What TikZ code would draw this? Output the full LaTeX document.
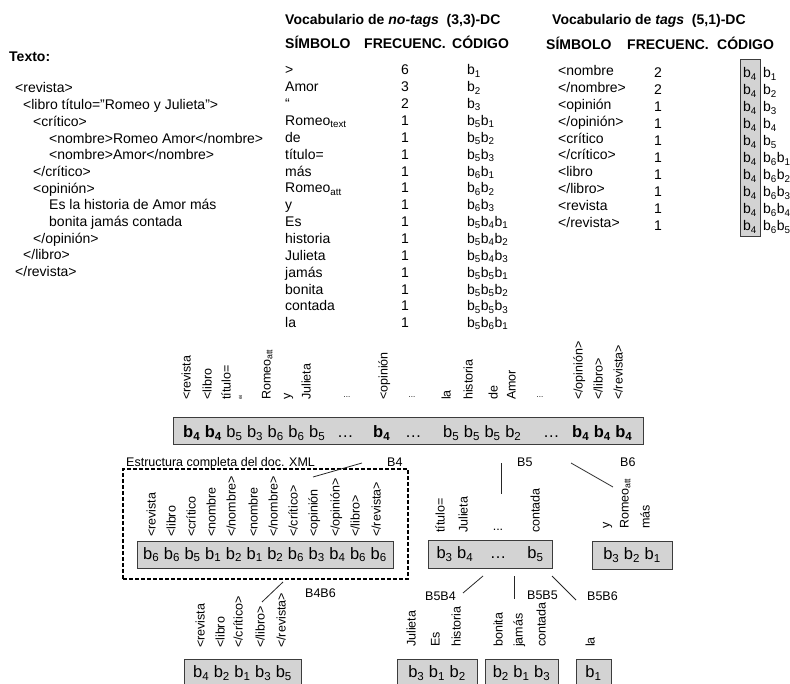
\documentclass[tikz,border=0pt]{standalone}
\usepackage{fontspec}
\setmainfont{Liberation Sans}
\definecolor{boxgray}{RGB}{211,211,211}
\definecolor{edgegray}{RGB}{60,60,60}
\newcommand{\cod}[1]{b\textsubscript{#1}}
\begin{document}
\begin{tikzpicture}[x=1pt, y=-1pt,
	txt/.style={anchor=base west, inner sep=0pt, font=\fontsize{14}{16}\selectfont},
	hdr/.style={anchor=base west, inner sep=0pt, font=\fontsize{14}{16}\selectfont\bfseries},
	num/.style={anchor=base, inner sep=0pt, font=\fontsize{14}{16}\selectfont},
	vlab/.style={rotate=90, anchor=mid west, inner sep=0pt, font=\fontsize{12.5}{14}\selectfont},
	dots/.style={anchor=base, inner sep=0pt, font=\fontsize{8}{9}\selectfont},
	blab/.style={anchor=base west, inner sep=0pt, font=\fontsize{12.5}{14}\selectfont},
	codebox/.style={draw=edgegray, fill=boxgray, line width=1pt, inner sep=0pt, font=\fontsize{16.5}{18}\selectfont},
	bartxt/.style={anchor=base west, inner sep=0pt, font=\fontsize{16.5}{18}\selectfont},
	link/.style={draw=black!85, line width=0.8pt}
]
\useasboundingbox (0,0) rectangle (790,684);
\clip (0,0) rectangle (790,684);
%
% the xml text
\node[hdr] (texto) at (9,62) {Texto:};
\def\doclines {15/<revista>, 23/<libro título=”Romeo y Julieta”>, 33/<crítico>, 49/{<nombre>Romeo Amor</nombre>}, 49/{<nombre>Amor</nombre>}, 33/{</crítico>}, 33/<opinión>, 49/Es la historia de Amor más, 49/bonita jamás contada, 33/{</opinión>}, 23/{</libro>}, 15/{</revista>}}
\foreach \x/\t [count=\i from 0] in \doclines{
	\node[txt] (doc\i) at (\x,93+16.7*\i) {\t};
}
%
% vocabulary of no-tags
\node[hdr] (nttitle) at (285,25) {Vocabulario de \textit{no-tags}\ \ (3,3)-DC};
\node[hdr] (ntsym) at (285,49) {SÍMBOLO};
\node[hdr] (ntfreq) at (364,49) {FRECUENC.};
\node[hdr] (ntcode) at (452,49) {CÓDIGO};
\def\notags {>/6/\cod{1}, Amor/3/\cod{2}, “/2/\cod{3}, Romeo\textsubscript{text}/1/\cod{5}\cod{1}, de/1/\cod{5}\cod{2}, título=/1/\cod{5}\cod{3}, más/1/\cod{6}\cod{1}, Romeo\textsubscript{att}/1/\cod{6}\cod{2}, y/1/\cod{6}\cod{3}, Es/1/\cod{5}\cod{4}\cod{1}, historia/1/\cod{5}\cod{4}\cod{2}, Julieta/1/\cod{5}\cod{4}\cod{3}, jamás/1/\cod{5}\cod{5}\cod{1}, bonita/1/\cod{5}\cod{5}\cod{2}, contada/1/\cod{5}\cod{5}\cod{3}, la/1/\cod{5}\cod{6}\cod{1}}
\foreach \s/\f/\c [count=\i from 0] in \notags{
	\node[txt] (nts\i) at (285,75+16.85*\i) {\s};
	\node[num] (ntf\i) at (405,75+16.85*\i) {\f};
	\node[txt] (ntc\i) at (467,75+16.85*\i) {\c};
}
%
% vocabulary of tags
\node[hdr] (tgtitle) at (552,25) {Vocabulario de \textit{tags}\ \ (5,1)-DC};
\node[hdr] (tgsym) at (546,50) {SÍMBOLO};
\node[hdr] (tgfreq) at (627,50) {FRECUENC.};
\node[hdr] (tgcode) at (717,50) {CÓDIGO};
\node[codebox, minimum width=20, minimum height=177] (tgbox) at (750,148.5) {};
\def\tags {<nombre/2/\cod{1}, {</nombre>}/2/\cod{2}, <opinión/1/\cod{3}, {</opinión>}/1/\cod{4}, <crítico/1/\cod{5}, {</crítico>}/1/\cod{6}\cod{1}, <libro/1/\cod{6}\cod{2}, {</libro>}/1/\cod{6}\cod{3}, <revista/1/\cod{6}\cod{4}, {</revista>}/1/\cod{6}\cod{5}}
\foreach \s/\f/\c [count=\i from 0] in \tags{
	\node[txt] (tgs\i) at (558,76+16.8*\i) {\s};
	\node[num] (tgf\i) at (658,78+16.9*\i) {\f};
	\node[txt] (tgp\i) at (743,78+17*\i) {\cod{4}};
	\node[txt] (tgc\i) at (763,78+17*\i) {\c};
}
%
% compressed text with its words
\node[codebox, minimum width=470, minimum height=27] (bar) at (408,431.5) {};
\node[bartxt] (bar1) at (183,438) {\textbf{\cod{4}} \textbf{\cod{4}} \cod{5} \cod{3} \cod{6} \cod{6} \cod{5}};
\node[bartxt] (bar2) at (337,438) {…};
\node[bartxt] (bar3) at (373,438) {\textbf{\cod{4}}};
\node[bartxt] (bar4) at (405,438) {…};
\node[bartxt] (bar5) at (443,438) {\cod{5} \cod{5} \cod{5} \cod{2}};
\node[bartxt] (bar6) at (543,438) {…};
\node[bartxt] (bar7) at (572,438) {\textbf{\cod{4}} \textbf{\cod{4}} \textbf{\cod{4}}};
%
% structure of the xml document
\node[draw=black, line width=1.6pt, dash pattern=on 4pt off 2pt, minimum width=285, minimum height=110] (xml) at (265.5,524) {};
\node[blab] (xmltitle) at (126,467) {Estructura completa del doc. XML};
\node[codebox, minimum width=256, minimum height=27] (b4box) at (265,554.5) {\cod{6} \cod{6} \cod{5} \cod{1} \cod{2} \cod{1} \cod{2} \cod{6} \cod{3} \cod{4} \cod{6} \cod{6}};
\node[codebox, minimum width=124, minimum height=28] (b5box) at (490,554) {\cod{3} \cod{4}\quad…\quad\ \cod{5}};
\node[codebox, minimum width=80, minimum height=28] (b6box) at (632,555) {\cod{3}\ \cod{2} \cod{1}};
\node[codebox, minimum width=117, minimum height=28] (b4b6box) at (242.5,673) {\cod{4} \cod{2} \cod{1} \cod{3} \cod{5}};
\node[codebox, minimum width=80, minimum height=28] (b5b4box) at (437,673) {\cod{3} \cod{1} \cod{2}};
\node[codebox, minimum width=73, minimum height=28] (b5b5box) at (521.5,673) {\cod{2} \cod{1} \cod{3}};
\node[codebox, minimum width=35, minimum height=28] (b5b6box) at (593.5,673) {\cod{1}};
%
% rotated words over the boxes
\def\vlabels {188/400/<revista, 209/400/<libro, 228/400/título=, 245/400/“, 268/400/Romeo\textsubscript{att}, 288/400/y, 308/400/Julieta, 385/400/<opinión, 448/400/la, 470/400/historia, 495/400/de, 513/400/Amor, 580/400/{</opinión>}, 600/400/{</libro>}, 620/400/{</revista>},
	153/537/<revista, 173/537/<libro, 193/537/<crítico, 213/537/<nombre, 233/537/{</nombre>}, 255/537/<nombre, 275/537/{</nombre>}, 295/537/{</crítico>}, 315/537/<opinión, 337/537/{</opinión>}, 357/537/{</libro>}, 378/537/{</revista>},
	442/533/título=, 465/533/Julieta, 537/533/contada, 607/529/y, 626/529/Romeo\textsubscript{att}, 647/529/más,
	202/648/<revista, 222/648/<libro, 240/648/{</crítico>}, 262/648/{</libro>}, 283/648/{</revista>},
	413/647/Julieta, 437/647/Es, 458/647/historia, 500/647/bonita, 520/647/jamás, 543/647/contada, 592/647/la}
\foreach \x/\y/\t [count=\i] in \vlabels{
	\node[vlab] (lab\i) at (\x,\y) {\t};
}
\foreach \x [count=\i] in {347, 412, 540}{
	\node[dots] (gap\i) at (\x,398) {...};
}
\node[blab, anchor=base] (gap4) at (498,530) {...};
%
% block names and their links
\node[blab] (nb4) at (387,467) {B4};
\node[blab] (nb5) at (517,467) {B5};
\node[blab] (nb6) at (620,467) {B6};
\node[blab] (nb4b6) at (305,597) {B4B6};
\node[blab] (nb5b4) at (425,600) {B5B4};
\node[blab] (nb5b5) at (527,599) {B5B5};
\node[blab] (nb5b6) at (587,600) {B5B6};
\coordinate (l4a) at (362,463);
\coordinate (l4b) at (313,477);
\coordinate (l5a) at (501,463);
\coordinate (l5b) at (501,494);
\coordinate (l6a) at (571,463);
\coordinate (l6b) at (613,487);
\coordinate (l46a) at (283,582);
\coordinate (l46b) at (262,602);
\coordinate (l54a) at (483,576);
\coordinate (l54b) at (463,593);
\coordinate (l55a) at (514,576);
\coordinate (l55b) at (514,599);
\coordinate (l56a) at (552,576);
\coordinate (l56b) at (576,600);
\foreach \s/\t in {l4a/l4b, l5a/l5b, l6a/l6b, l46a/l46b, l54a/l54b, l55a/l55b, l56a/l56b}{
	\draw[link] (\s) -- (\t);
}
\end{tikzpicture}
\end{document}
